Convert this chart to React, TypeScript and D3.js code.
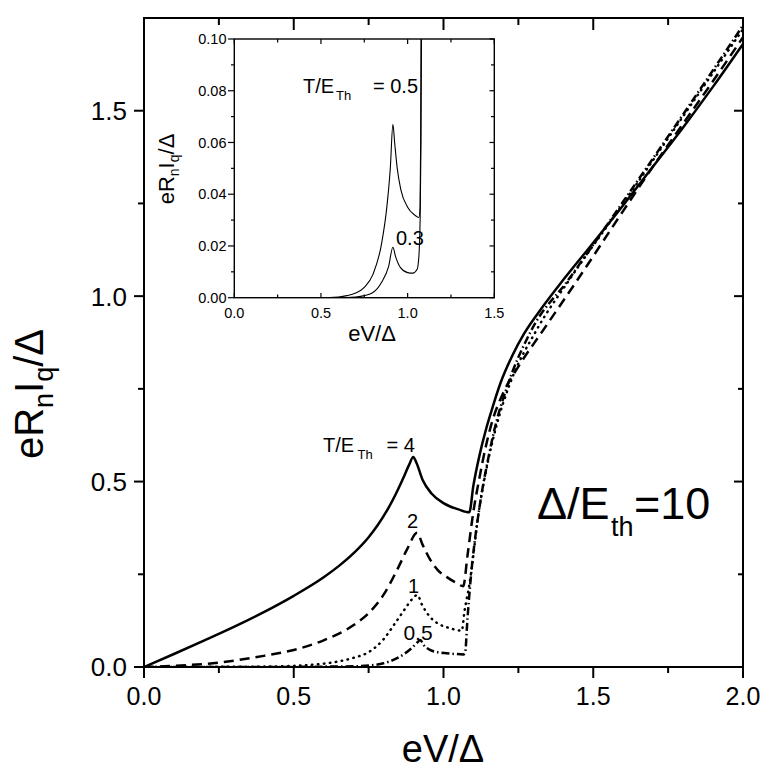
import React from "react";
import * as d3 from "d3";

// ---------- main panel data (eV/Δ vs eR_n I_q/Δ) ----------
const vT4 = [0, 0.1, 0.2, 0.3, 0.4, 0.5, 0.6, 0.65, 0.7, 0.75, 0.78, 0.81, 0.84, 0.865, 0.885, 0.899, 0.91, 0.93, 0.96, 1.0, 1.05, 1.086, 1.1, 1.12, 1.14, 1.16, 1.19, 1.23, 1.27, 1.33, 1.4, 1.49, 1.6, 1.7, 1.8, 1.9, 2.0];
const iT4 = [0, 0.035, 0.071, 0.108, 0.148, 0.192, 0.242, 0.272, 0.307, 0.35, 0.382, 0.42, 0.465, 0.508, 0.545, 0.566, 0.55, 0.505, 0.468, 0.442, 0.425, 0.417, 0.49, 0.57, 0.635, 0.69, 0.765, 0.84, 0.9, 0.97, 1.044, 1.134, 1.245, 1.35, 1.455, 1.565, 1.68];

const vT2 = [0, 0.1, 0.25, 0.4, 0.5, 0.6, 0.7, 0.75, 0.8, 0.85, 0.88, 0.912, 0.93, 0.955, 0.98, 1.01, 1.04, 1.066, 1.08, 1.1, 1.12, 1.14, 1.16, 1.2, 1.25, 1.33, 1.44, 1.6, 1.7, 1.8, 1.9, 2.0];
const iT2 = [0, 0.003, 0.012, 0.03, 0.046, 0.072, 0.113, 0.145, 0.195, 0.27, 0.32, 0.362, 0.33, 0.29, 0.262, 0.243, 0.228, 0.218, 0.3, 0.42, 0.51, 0.59, 0.655, 0.74, 0.81, 0.905, 1.035, 1.23, 1.35, 1.465, 1.58, 1.698];

const vT1 = [0, 0.2, 0.4, 0.5, 0.6, 0.65, 0.7, 0.75, 0.8, 0.84, 0.87, 0.895, 0.912, 0.93, 0.955, 0.98, 1.02, 1.061, 1.07, 1.086, 1.12, 1.15, 1.18, 1.22, 1.311, 1.42, 1.6, 1.8, 2.0];
const iT1 = [0, 0.0003, 0.001, 0.003, 0.009, 0.015, 0.025, 0.04, 0.075, 0.12, 0.155, 0.183, 0.194, 0.165, 0.135, 0.118, 0.105, 0.098, 0.15, 0.22, 0.43, 0.56, 0.66, 0.76, 0.909, 1.044, 1.25, 1.485, 1.72];

const vT05 = [0, 0.3, 0.5, 0.6, 0.7, 0.75, 0.8, 0.843, 0.87, 0.895, 0.915, 0.922, 0.935, 0.955, 0.98, 1.01, 1.04, 1.066, 1.072, 1.08, 1.09, 1.12, 1.15, 1.17, 1.21, 1.294, 1.417, 1.6, 1.8, 2.0];
const iT05 = [0, 0, 0.0003, 0.001, 0.002, 0.004, 0.01, 0.023, 0.036, 0.052, 0.068, 0.073, 0.058, 0.046, 0.04, 0.037, 0.035, 0.034, 0.037, 0.13, 0.23, 0.43, 0.565, 0.64, 0.75, 0.909, 1.044, 1.255, 1.49, 1.73];

// ---------- inset data ----------
const vIn05 = [0, 0.5, 0.6, 0.65, 0.7, 0.75, 0.8, 0.85, 0.88, 0.9, 0.915, 0.925, 0.94, 0.96, 1.0, 1.04, 1.065, 1.072, 1.075, 1.077, 1.079];
const iIn05 = [0, 0, 0.0003, 0.0008, 0.0018, 0.004, 0.009, 0.021, 0.035, 0.05, 0.067, 0.06, 0.05, 0.042, 0.035, 0.032, 0.031, 0.035, 0.06, 0.1, 0.13];
const vIn03 = [0, 0.6, 0.7, 0.75, 0.8, 0.85, 0.89, 0.915, 0.93, 0.96, 1.0, 1.03, 1.055, 1.065, 1.072, 1.077, 1.08];
const iIn03 = [0, 0, 0.0003, 0.0008, 0.002, 0.006, 0.012, 0.0195, 0.016, 0.0115, 0.0097, 0.0095, 0.011, 0.016, 0.03, 0.06, 0.1];

// ---------- ticks ----------
const mainXMajor = [0, 0.5, 1.0, 1.5, 2.0];
const mainXMinor = [0.25, 0.75, 1.25, 1.75];
const mainYMajor = [0, 0.5, 1.0, 1.5];
const mainYMinor = [0.25, 0.75, 1.25];
const insetXMajor = [0, 0.5, 1.0, 1.5];
const insetXMinor = [0.25, 0.75, 1.25];
const insetYMajor = [0, 0.02, 0.04, 0.06, 0.08, 0.1];
const insetYMinor = [0.01, 0.03, 0.05, 0.07, 0.09];

const FONT = "'Liberation Sans', Arial, Helvetica, sans-serif";

export default function App() {
  const W = 781, H = 776;
  const x = d3.scaleLinear().domain([0, 2]).range([144, 743]);
  const y = d3.scaleLinear().domain([0, 1.75]).range([667, 18]);
  const xi = d3.scaleLinear().domain([0, 1.5]).range([234.3, 494.3]);
  const yi = d3.scaleLinear().domain([0, 0.1]).range([297.7, 39]);

  const lineMain = d3.line<[number, number]>().x(d => x(d[0])).y(d => y(d[1])).curve(d3.curveMonotoneX);
  const lineIn = d3.line<[number, number]>().x(d => xi(d[0])).y(d => yi(d[1])).curve(d3.curveMonotoneX);

  const series = [
    { v: vT4, i: iT4, dash: undefined as string | undefined, cap: "butt" },
    { v: vT2, i: iT2, dash: "10 6", cap: "butt" },
    { v: vT1, i: iT1, dash: "0.5 5.5", cap: "round" },
    { v: vT05, i: iT05, dash: "8 3 1.5 3", cap: "butt" },
  ];

  const fmt1 = d3.format(".1f");
  const fmt2 = d3.format(".2f");

  return (
    <div style={{ position: "absolute", left: 0, top: 0 }}>
      <svg width={W} height={H} style={{ display: "block", background: "#fff" }} fontFamily={FONT}>
        <defs>
          <clipPath id="mainClip">
            <rect x={144} y={18} width={599} height={649} />
          </clipPath>
          <clipPath id="insetClip">
            <rect x={234.3} y={39} width={260} height={258.7} />
          </clipPath>
        </defs>

        {/* main curves */}
        <g clipPath="url(#mainClip)">
          {series.map((s, k) => (
            <path
              key={k}
              d={lineMain(d3.zip(s.v, s.i) as [number, number][]) || ""}
              fill="none"
              stroke="#000"
              strokeWidth={2.5}
              strokeDasharray={s.dash}
              strokeLinecap={s.cap as any}
              strokeLinejoin="round"
            />
          ))}
        </g>

        {/* main frame */}
        <rect x={144} y={18} width={599} height={649} fill="none" stroke="#000" strokeWidth={2} />

        {/* bottom & top ticks */}
        {mainXMajor.map(t => (
          <g key={"xM" + t}>
            <line x1={x(t)} x2={x(t)} y1={667} y2={678} stroke="#000" strokeWidth={2} />
            <line x1={x(t)} x2={x(t)} y1={18} y2={30} stroke="#000" strokeWidth={2} />
            <text x={x(t)} y={705} fontSize={25} textAnchor="middle">{fmt1(t)}</text>
          </g>
        ))}
        {mainXMinor.map(t => (
          <g key={"xm" + t}>
            <line x1={x(t)} x2={x(t)} y1={667} y2={673} stroke="#000" strokeWidth={2} />
            <line x1={x(t)} x2={x(t)} y1={18} y2={25} stroke="#000" strokeWidth={2} />
          </g>
        ))}
        {/* left & right ticks */}
        {mainYMajor.map(t => (
          <g key={"yM" + t}>
            <line x1={134} x2={144} y1={y(t)} y2={y(t)} stroke="#000" strokeWidth={2} />
            <line x1={734} x2={743} y1={y(t)} y2={y(t)} stroke="#000" strokeWidth={2} />
            <text x={127} y={y(t)} dy="0.36em" fontSize={26} textAnchor="end">{fmt1(t)}</text>
          </g>
        ))}
        {mainYMinor.map(t => (
          <g key={"ym" + t}>
            <line x1={138} x2={144} y1={y(t)} y2={y(t)} stroke="#000" strokeWidth={2} />
            <line x1={738} x2={743} y1={y(t)} y2={y(t)} stroke="#000" strokeWidth={2} />
          </g>
        ))}

        {/* axis titles */}
        <text x={443} y={762} fontSize={38} textAnchor="middle">eV/Δ</text>
        <text transform="translate(43,394) rotate(-90)" fontSize={40} textAnchor="middle">
          eR<tspan fontSize={27} dy={10}>n</tspan><tspan dy={-10}>I</tspan><tspan fontSize={27} dy={10}>q</tspan><tspan dy={-10}>/Δ</tspan>
        </text>

        {/* main annotations */}
        <text x={323} y={452} fontSize={20}>T/E</text>
        <text x={357.5} y={459} fontSize={13}>Th</text>
        <text x={386.5} y={452} fontSize={20}>= 4</text>
        <text x={412.5} y={528} fontSize={20} textAnchor="middle">2</text>
        <text x={413.5} y={593} fontSize={20} textAnchor="middle">1</text>
        <text x={418} y={640} fontSize={21} textAnchor="middle">0.5</text>

        <text x={537} y={519} fontSize={45}>Δ/E</text>
        <text x={611} y={536} fontSize={27}>th</text>
        <text x={634} y={519} fontSize={45}>=10</text>

        {/* ---------- inset ---------- */}
        <rect x={234.3} y={39} width={260} height={258.7} fill="#fff" />
        <g clipPath="url(#insetClip)">
          <path d={lineIn(d3.zip(vIn05, iIn05) as [number, number][]) || ""} fill="none" stroke="#000" strokeWidth={1.1} />
          <path d={lineIn(d3.zip(vIn03, iIn03) as [number, number][]) || ""} fill="none" stroke="#000" strokeWidth={1.1} />
        </g>
        <rect x={234.3} y={39} width={260} height={258.7} fill="none" stroke="#000" strokeWidth={1.4} />

        {insetXMajor.map(t => (
          <g key={"ixM" + t}>
            <line x1={xi(t)} x2={xi(t)} y1={297.7} y2={293} stroke="#000" strokeWidth={1.2} />
            <line x1={xi(t)} x2={xi(t)} y1={39} y2={44} stroke="#000" strokeWidth={1.2} />
            <text x={xi(t)} y={318} fontSize={14.5} textAnchor="middle">{fmt1(t)}</text>
          </g>
        ))}
        {insetXMinor.map(t => (
          <g key={"ixm" + t}>
            <line x1={xi(t)} x2={xi(t)} y1={297.7} y2={294.5} stroke="#000" strokeWidth={1.2} />
            <line x1={xi(t)} x2={xi(t)} y1={39} y2={42.5} stroke="#000" strokeWidth={1.2} />
          </g>
        ))}
        {insetYMajor.map(t => (
          <g key={"iyM" + t}>
            <line x1={228} x2={234.3} y1={yi(t)} y2={yi(t)} stroke="#000" strokeWidth={1.2} />
            <line x1={489.5} x2={494.3} y1={yi(t)} y2={yi(t)} stroke="#000" strokeWidth={1.2} />
            <text x={226.5} y={yi(t)} dy="0.36em" fontSize={14.5} textAnchor="end">{fmt2(t)}</text>
          </g>
        ))}
        {insetYMinor.map(t => (
          <g key={"iym" + t}>
            <line x1={231} x2={234.3} y1={yi(t)} y2={yi(t)} stroke="#000" strokeWidth={1.2} />
            <line x1={491} x2={494.3} y1={yi(t)} y2={yi(t)} stroke="#000" strokeWidth={1.2} />
          </g>
        ))}

        <text x={372} y={341} fontSize={22} textAnchor="middle">eV/Δ</text>
        <text transform="translate(174,169) rotate(-90)" fontSize={22} textAnchor="middle">
          eR<tspan fontSize={14} dy={5}>n</tspan><tspan dy={-5}>I</tspan><tspan fontSize={14} dy={5}>q</tspan><tspan dy={-5}>/Δ</tspan>
        </text>

        <text x={303} y={93} fontSize={20}>T/E</text>
        <text x={336} y={100} fontSize={13}>Th</text>
        <text x={373} y={93} fontSize={20}>= 0.5</text>
        <text x={396} y={245} fontSize={20}>0.3</text>
      </svg>
    </div>
  );
}
